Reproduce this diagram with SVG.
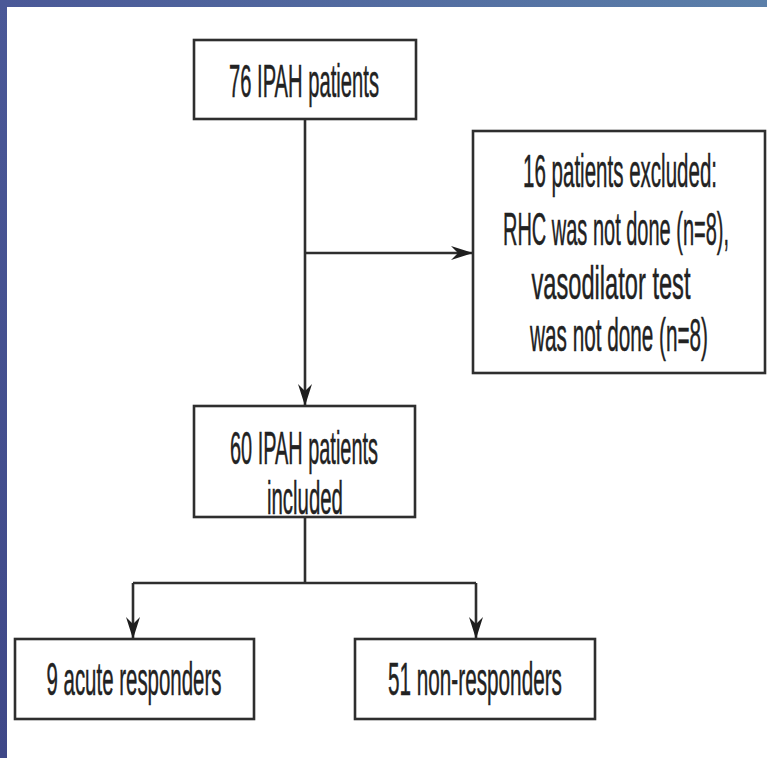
<svg xmlns="http://www.w3.org/2000/svg" width="767" height="758" viewBox="0 0 767 758">
<defs>
<linearGradient id="gTop" x1="0" y1="0" x2="1" y2="0">
<stop offset="0" stop-color="#4a5897"/>
<stop offset="1" stop-color="#5b7fa9"/>
</linearGradient>
<linearGradient id="gLeft" x1="0" y1="0" x2="0" y2="1">
<stop offset="0" stop-color="#4a5897"/>
<stop offset="1" stop-color="#3f4888"/>
</linearGradient>
<marker id="arr" markerUnits="userSpaceOnUse" viewBox="0 0 22 14" refX="22" refY="7" markerWidth="22" markerHeight="14" orient="auto">
<path d="M0,0 L22,7 L0,14 L7,7 Z" fill="#1e1e1e"/>
</marker>
</defs>
<style>
.box{fill:#fff;stroke:#2e2e2e;stroke-width:2.6}
.t{font-family:"Liberation Sans Narrow","Liberation Sans",Arial,sans-serif;font-size:46px;fill:#222;stroke:#222;stroke-width:0.5;text-anchor:middle}
.c{fill:none;stroke:#2e2e2e;stroke-width:2.6}
</style>
<rect width="767" height="758" fill="#fff"/>
<rect x="0" y="0" width="767" height="7" fill="url(#gTop)"/>
<rect x="0" y="0" width="7" height="758" fill="url(#gLeft)"/>
<g id="connectors">
<line class="c" x1="305" y1="119" x2="305" y2="406" marker-end="url(#arr)"/>
<line class="c" x1="305" y1="253" x2="473" y2="253" marker-end="url(#arr)"/>
<polyline class="c" points="305,517 305,583"/>
<polyline class="c" points="133,583 476,583"/>
<line class="c" x1="133" y1="583" x2="133" y2="639" marker-end="url(#arr)"/>
<line class="c" x1="476" y1="583" x2="476" y2="639" marker-end="url(#arr)"/>
</g>
<g id="n1">
<rect class="box" x="194" y="40" width="222" height="79"/>
<text class="t" transform="scale(0.55,1)" x="552.7" y="97" textLength="272.7" lengthAdjust="spacingAndGlyphs">76 IPAH patients</text>
</g>
<g id="n2">
<rect class="box" x="473" y="131" width="292" height="242"/>
<text class="t" transform="scale(0.55,1)" x="1127.3" y="187" textLength="352.7" lengthAdjust="spacingAndGlyphs">16 patients excluded:</text>
<text class="t" transform="scale(0.46,1)" x="1339.1" y="245" textLength="491.3" lengthAdjust="spacingAndGlyphs">RHC was not done (n=8),</text>
<text class="t" transform="scale(0.55,1)" x="1110.9" y="299" textLength="289.1" lengthAdjust="spacingAndGlyphs">vasodilator test</text>
<text class="t" transform="scale(0.55,1)" x="1125.5" y="351" textLength="323.6" lengthAdjust="spacingAndGlyphs">was not done (n=8)</text>
</g>
<g id="n3">
<rect class="box" x="194" y="406" width="221" height="111"/>
<text class="t" transform="scale(0.55,1)" x="552.7" y="464" textLength="269.1" lengthAdjust="spacingAndGlyphs">60 IPAH patients</text>
<text class="t" transform="scale(0.55,1)" x="554.5" y="514" textLength="138.2" lengthAdjust="spacingAndGlyphs">included</text>
</g>
<g id="n4">
<rect class="box" x="15" y="639" width="239" height="80"/>
<text class="t" transform="scale(0.55,1)" x="243.6" y="695" textLength="318.2" lengthAdjust="spacingAndGlyphs">9 acute responders</text>
</g>
<g id="n5">
<rect class="box" x="355" y="639" width="240" height="80"/>
<text class="t" transform="scale(0.55,1)" x="863.6" y="695" textLength="316.4" lengthAdjust="spacingAndGlyphs">51 non-responders</text>
</g>
</svg>
